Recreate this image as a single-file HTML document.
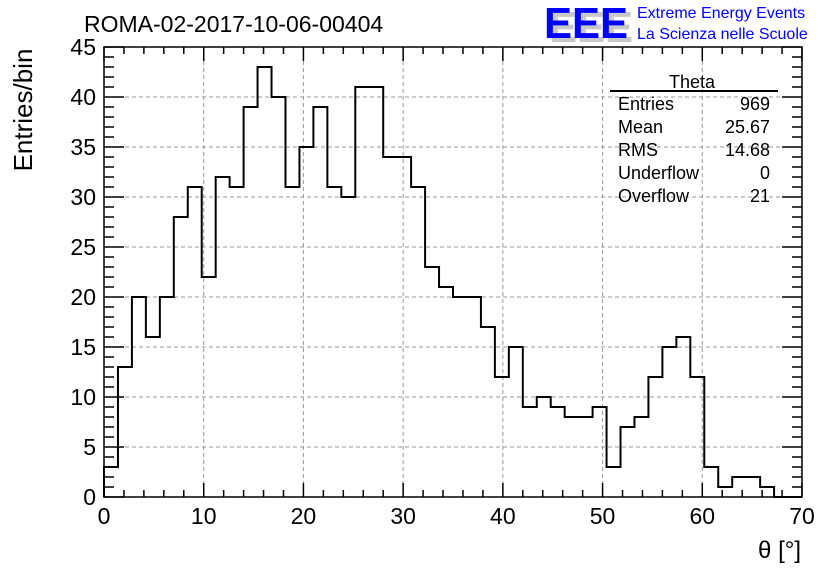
<!DOCTYPE html>
<html><head><meta charset="utf-8"><style>
body{margin:0;background:#fff;}
svg{display:block;font-family:"Liberation Sans",sans-serif;}
</style></head><body>
<svg id="c" width="836" height="572" viewBox="0 0 836 572">
<rect width="836" height="572" fill="#fff"/>
<g id="grid"></g>
<g id="ticks"></g>
<path id="hist" fill="none" stroke="#000" stroke-width="2"/>
<rect x="104" y="47" width="698" height="450" fill="none" stroke="#000" stroke-width="1.5"/>
<g id="labels"></g>
<text x="84" y="32" font-size="23">ROMA-02-2017-10-06-00404</text>
<g>
<text x="549" y="42" font-size="44" font-weight="bold" fill="#c8c8c8" textLength="84" lengthAdjust="spacingAndGlyphs">EEE</text>
<text x="544" y="38" font-size="44" font-weight="bold" fill="#0000ff" textLength="84" lengthAdjust="spacingAndGlyphs">EEE</text>
</g>
<text x="637" y="18" font-size="16" fill="#0000ff">Extreme Energy Events</text>
<text x="637" y="39" font-size="16" fill="#0000ff">La Scienza nelle Scuole</text>
<g font-size="18">
<text x="692" y="88" text-anchor="middle">Theta</text>
<line x1="610" y1="91" x2="778" y2="91" stroke="#000" stroke-width="2"/>
<text x="618" y="110">Entries</text><text x="770" y="110" text-anchor="end">969</text>
<text x="618" y="133">Mean</text><text x="770" y="133" text-anchor="end">25.67</text>
<text x="618" y="156">RMS</text><text x="770" y="156" text-anchor="end">14.68</text>
<text x="618" y="179">Underflow</text><text x="770" y="179" text-anchor="end">0</text>
<text x="618" y="202">Overflow</text><text x="770" y="202" text-anchor="end">21</text>
</g>
<text x="801" y="558" font-size="24" text-anchor="end">θ [°]</text>
<text transform="translate(32,110) rotate(-90)" font-size="26" text-anchor="middle">Entries/bin</text>
</svg>
<script>
const binCounts=[3,13,20,16,20,28,31,22,32,31,39,43,40,31,35,39,31,30,41,41,34,34,31,23,21,20,20,17,12,15,9,10,9,8,8,9,3,7,8,12,15,16,12,3,1,2,2,1,0,0];
const xTickLabels=[0,10,20,30,40,50,60,70];
const yTickLabels=[0,5,10,15,20,25,30,35,40,45];
const xMin=0,xMax=70,yMin=0,yMax=45,binWidth=1.4;
const L=104,R=802,T=47,B=497;
const sx=v=>L+(v-xMin)/(xMax-xMin)*(R-L);
const sy=v=>B-(v-yMin)/(yMax-yMin)*(B-T);
const NS="http://www.w3.org/2000/svg";
function mk(tag,attrs,parent){const e=document.createElementNS(NS,tag);for(const k in attrs)e.setAttribute(k,attrs[k]);parent.appendChild(e);return e;}
const grid=document.getElementById('grid'),ticks=document.getElementById('ticks'),labels=document.getElementById('labels');
xTickLabels.forEach(v=>{
  const x=sx(v);
  if(v>xMin&&v<xMax){const g=mk('line',{x1:x,x2:x,y1:T,y2:B,stroke:'#999','stroke-dasharray':'4,3','stroke-width':1},grid);
  
  }
  const t=mk('text',{x:x,y:B+27,'font-size':23,'text-anchor':'middle'},labels);t.textContent=v;
  
  
});
yTickLabels.forEach(v=>{
  const y=sy(v);
  if(v>yMin&&v<yMax){const g=mk('line',{x1:L,x2:R,y1:y,y2:y,stroke:'#999','stroke-dasharray':'4,3','stroke-width':1},grid);
  
  }
  const t=mk('text',{x:L-8,y:y+8,'font-size':23,'text-anchor':'end'},labels);t.textContent=v;
  
  
});
let td='';
for(let v=xMin;v<=xMax+1e-9;v+=2){const x=sx(v);const len=(v%10===0)?14:7;td+=`M${x},${B}V${B-len}M${x},${T}V${T+len}`;}
for(let v=yMin;v<=yMax;v+=1){const y=sy(v);const len=(v%5===0)?20:10;td+=`M${L},${y}H${L+len}M${R},${y}H${R-len}`;}
const tp=mk('path',{d:td,stroke:'#000','stroke-width':1.5,fill:'none'},ticks);


let d=`M${sx(0)},${sy(0)}`;
binCounts.forEach((c,i)=>{const x1=sx(Math.min((i+1)*binWidth,xMax));d+=`V${sy(c)}H${x1}`;});
d+=`V${sy(0)}`;
document.getElementById('hist').setAttribute('d',d);
</script>
</body></html>
